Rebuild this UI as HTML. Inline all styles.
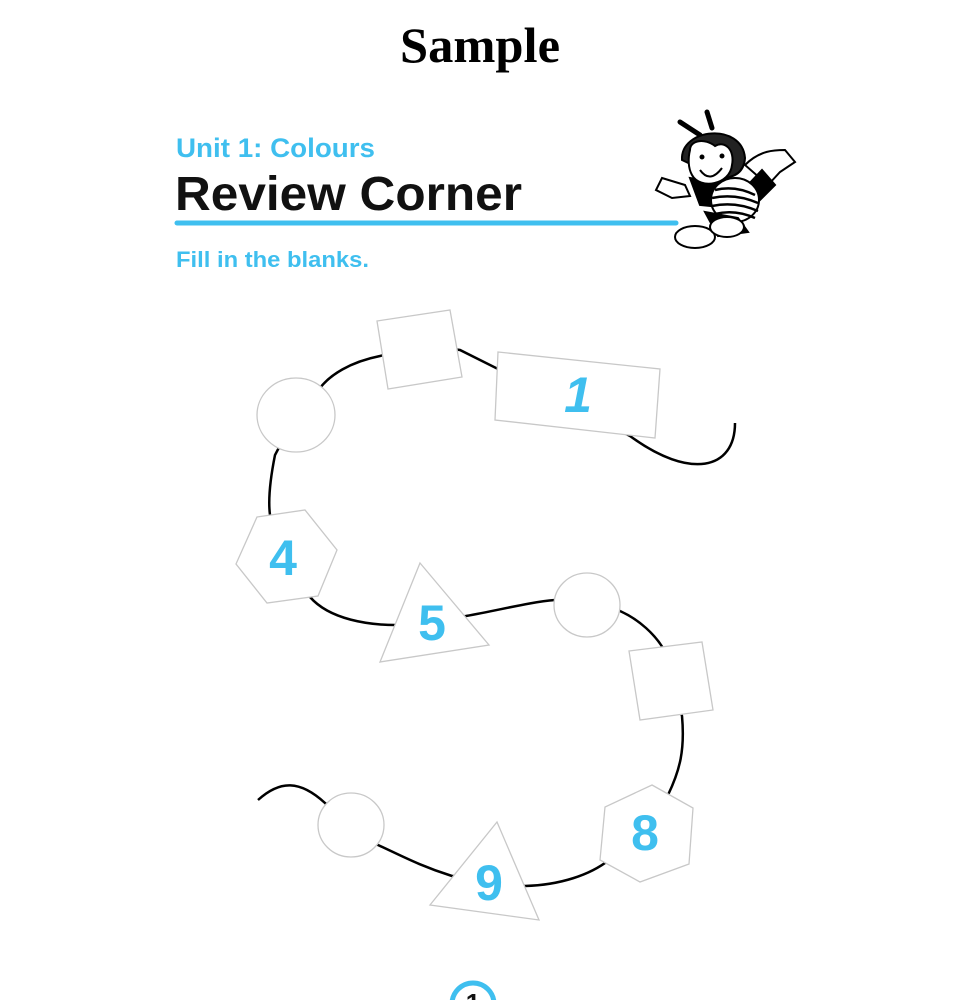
<!DOCTYPE html>
<html><head><meta charset="utf-8"><style>
html,body{margin:0;padding:0;background:#fff;width:960px;height:1000px;overflow:hidden}
</style></head><body>
<svg width="960" height="1000" viewBox="0 0 960 1000" xmlns="http://www.w3.org/2000/svg">
<text x="480" y="62" text-anchor="middle" font-family="Liberation Serif, serif" font-weight="bold" font-size="50" fill="#000" textLength="160" lengthAdjust="spacingAndGlyphs">Sample</text>
<text x="176" y="157" font-family="Liberation Sans, sans-serif" font-weight="bold" font-size="27" fill="#3fbfef" textLength="199" lengthAdjust="spacingAndGlyphs">Unit 1: Colours</text>
<text x="175" y="210" font-family="Liberation Sans, sans-serif" font-weight="bold" font-size="48" fill="#111" textLength="347" lengthAdjust="spacingAndGlyphs">Review Corner</text>
<line x1="177" y1="223" x2="676" y2="223" stroke="#3fbfef" stroke-width="5" stroke-linecap="round"/>
<text x="176" y="267" font-family="Liberation Sans, sans-serif" font-weight="bold" font-size="22" fill="#3fbfef" textLength="193" lengthAdjust="spacingAndGlyphs">Fill in the blanks.</text>

<!-- bee -->
<g stroke="#000" stroke-width="2" fill="#fff">
<line x1="700" y1="135" x2="680" y2="122" stroke-width="5" stroke-linecap="round"/>
<line x1="712" y1="128" x2="707" y2="112" stroke-width="5" stroke-linecap="round"/>
<path d="M745 165 C760 150 775 150 785 150 L795 162 L780 172 L768 185Z"/>
<path d="M685 185 L662 178 L656 190 L672 198 L690 196Z"/>
<path d="M690 178 L745 188 L762 170 L775 185 L750 210 L700 205Z" fill="#000"/>
<ellipse cx="735" cy="200" rx="24" ry="22" fill="#fff"/>
<path d="M715 190 Q735 185 755 195 M712 198 Q735 193 758 203 M712 206 Q735 201 758 211 M715 214 Q735 209 755 218" fill="none" stroke-width="2.5"/>
<path d="M705 212 L738 218 L748 232 L718 236Z" fill="#000"/>
<ellipse cx="695" cy="237" rx="20" ry="11"/>
<ellipse cx="727" cy="227" rx="17" ry="10"/>
<path d="M682 160 C680 128 742 122 745 158 C744 172 735 178 720 178Z" fill="#222"/>
<path d="M690 150 C690 140 705 138 715 146 C725 140 735 150 732 165 C730 185 700 190 692 175 C688 168 688 158 690 150Z"/>
<path d="M700 170 Q710 184 722 168" fill="#fff"/>
<circle cx="702" cy="157" r="1.5" fill="#000"/><circle cx="722" cy="156" r="1.5" fill="#000"/>
</g>

<!-- path -->
<path d="M735,423 C735,470 690,480 630,436 L560,400 L460,350 C430,345 400,350 380,356 C350,362 330,375 320,388 L296,415 L275,455 C270,480 268,500 270,515 L286,556 L310,597 C330,620 370,625 395,625 L434,620 L466,616 C500,610 530,602 555,600 L587,605 L620,611 C640,620 655,635 663,648 L671,681 L682,716 C685,750 680,770 668,795 L646,833 L609,860 C590,875 560,885 525,886 L485,876 L452,876 C420,866 400,855 378,845 L351,825 L325,803 C300,780 280,780 258,800" fill="none" stroke="#000" stroke-width="2.5"/>

<g fill="#fff" stroke="#c8c8c8" stroke-width="1.3">
<ellipse cx="296" cy="415" rx="39" ry="37"/>
<polygon points="377,321 450,310 462,377 388,389"/>
<polygon points="498,352 660,369 655,438 495,420"/>
<polygon points="257,517 305,510 337,550 318,596 267,603 236,564"/>
<polygon points="420,563 489,645 380,662"/>
<ellipse cx="587" cy="605" rx="33" ry="32"/>
<polygon points="629,651 702,642 713,710 640,720"/>
<polygon points="652,785 693,808 689,864 640,882 600,860 605,807"/>
<polygon points="497,822 539,920 430,905"/>
<ellipse cx="351" cy="825" rx="33" ry="32"/>
</g>
<g font-family="Liberation Sans, sans-serif" font-weight="bold" font-size="50" fill="#3fbfef" text-anchor="middle">
<text x="578" y="412" font-style="italic">1</text>
<text x="283" y="575">4</text>
<text x="432" y="640">5</text>
<text x="645" y="850">8</text>
<text x="489" y="900">9</text>
</g>
<circle cx="473" cy="1004" r="21" fill="#fff" stroke="#3fbfef" stroke-width="5"/>
<text x="473" y="1012" text-anchor="middle" font-family="Liberation Sans, sans-serif" font-weight="bold" font-size="26" fill="#111">1</text>
</svg>
</body></html>
